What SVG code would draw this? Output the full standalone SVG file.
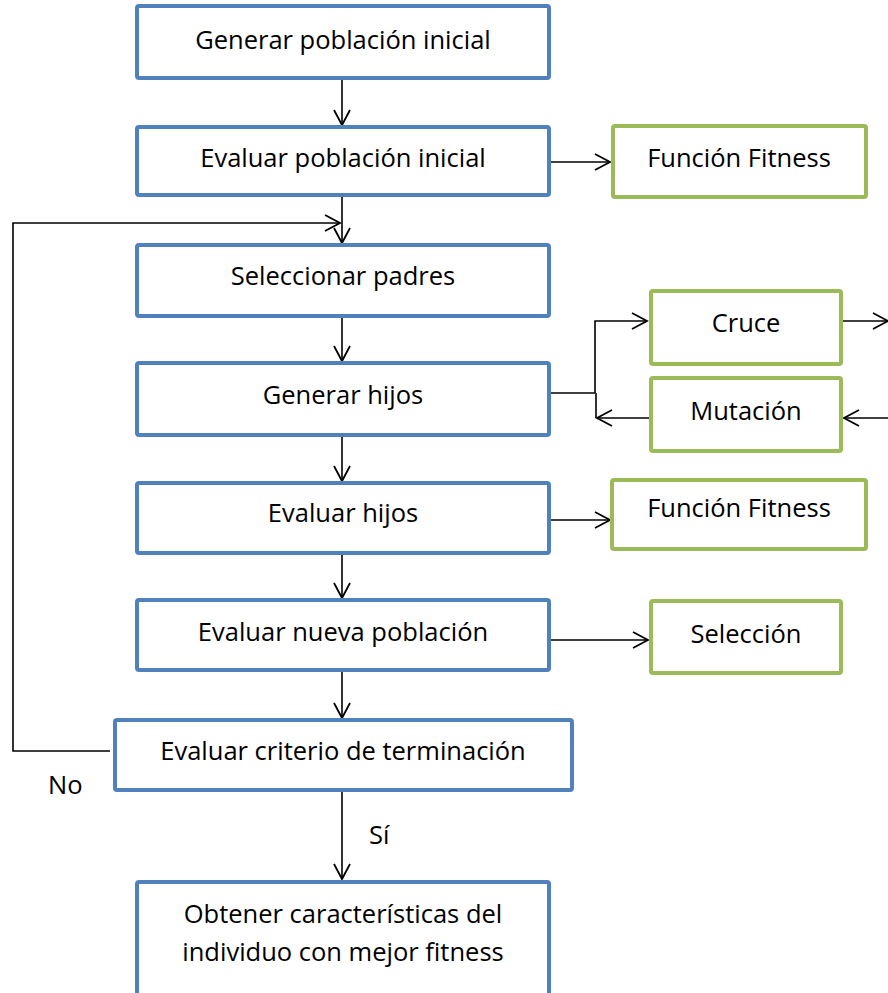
<svg xmlns="http://www.w3.org/2000/svg" width="888" height="993" viewBox="0 0 888 993">
  <defs>
    <marker id="arr" viewBox="0 0 20 20" refX="17" refY="10" markerWidth="20" markerHeight="20" markerUnits="userSpaceOnUse" orient="auto">
      <path d="M2,2 L17,10 L2,18" fill="none" stroke="#000" stroke-width="1.8"/>
    </marker>
  </defs>
  <style>
    .step { fill: #fff; stroke: #4F81BD; stroke-width: 4; }
    .op { fill: #fff; stroke: #9BBB59; stroke-width: 4; }
    .lbl { font-family: "Open Sans", "Liberation Sans", sans-serif; font-size: 25.5px; fill: #000; text-anchor: middle; }
    .free { font-family: "Open Sans", "Liberation Sans", sans-serif; font-size: 25.5px; fill: #000; }
    .ln { fill: none; stroke: #000; stroke-width: 1.6; }
  </style>
  <rect width="888" height="993" fill="#fff"/>

  <g id="connectors">
    <path class="ln" d="M342,78 V125" marker-end="url(#arr)"/>
    <path class="ln" d="M551,162 H610" marker-end="url(#arr)"/>
    <path class="ln" d="M342,195 V243" marker-end="url(#arr)"/>
    <path class="ln" d="M110,751 H13 V223 H340" marker-end="url(#arr)"/>
    <path class="ln" d="M342,316 V361" marker-end="url(#arr)"/>
    <path class="ln" d="M551,393 H595"/>
    <path class="ln" d="M595,393 V321 H647" marker-end="url(#arr)"/>
    <path class="ln" d="M596,393 V418"/>
    <path class="ln" d="M650,418 H597" marker-end="url(#arr)"/>
    <path class="ln" d="M843,321 H888" marker-end="url(#arr)"/>
    <path class="ln" d="M888,418 H844" marker-end="url(#arr)"/>
    <path class="ln" d="M342,435 V481" marker-end="url(#arr)"/>
    <path class="ln" d="M551,520 H610" marker-end="url(#arr)"/>
    <path class="ln" d="M342,553 V598" marker-end="url(#arr)"/>
    <path class="ln" d="M551,640 H648" marker-end="url(#arr)"/>
    <path class="ln" d="M342,670 V718" marker-end="url(#arr)"/>
    <path class="ln" d="M342,790 V879" marker-end="url(#arr)"/>
  </g>

  <g id="generar-poblacion">
    <rect class="step" x="137" y="6" width="412" height="72" rx="2"/>
    <text class="lbl" x="343" y="49">Generar población inicial</text>
  </g>
  <g id="evaluar-poblacion">
    <rect class="step" x="137" y="127" width="412" height="68" rx="2"/>
    <text class="lbl" x="343" y="167">Evaluar población inicial</text>
  </g>
  <g id="fitness-1">
    <rect class="op" x="613" y="126" width="253" height="71" rx="2"/>
    <text class="lbl" x="739" y="167">Función Fitness</text>
  </g>
  <g id="seleccionar-padres">
    <rect class="step" x="137" y="245" width="412" height="71" rx="2"/>
    <text class="lbl" x="343" y="285">Seleccionar padres</text>
  </g>
  <g id="generar-hijos">
    <rect class="step" x="137" y="363" width="412" height="72" rx="2"/>
    <text class="lbl" x="343" y="404">Generar hijos</text>
  </g>
  <g id="cruce">
    <rect class="op" x="651" y="291" width="190" height="73" rx="2"/>
    <text class="lbl" x="746" y="332">Cruce</text>
  </g>
  <g id="mutacion">
    <rect class="op" x="651" y="378" width="190" height="73" rx="2"/>
    <text class="lbl" x="746" y="420">Mutación</text>
  </g>
  <g id="evaluar-hijos">
    <rect class="step" x="137" y="483" width="412" height="70" rx="2"/>
    <text class="lbl" x="343" y="522">Evaluar hijos</text>
  </g>
  <g id="fitness-2">
    <rect class="op" x="612" y="480" width="254" height="69" rx="2"/>
    <text class="lbl" x="739" y="517">Función Fitness</text>
  </g>
  <g id="evaluar-nueva">
    <rect class="step" x="137" y="600" width="412" height="70" rx="2"/>
    <text class="lbl" x="343" y="641">Evaluar nueva población</text>
  </g>
  <g id="seleccion">
    <rect class="op" x="651" y="601" width="190" height="72" rx="2"/>
    <text class="lbl" x="746" y="643">Selección</text>
  </g>
  <g id="criterio">
    <rect class="step" x="115" y="720" width="457" height="70" rx="2"/>
    <text class="lbl" x="343" y="760">Evaluar criterio de terminación</text>
  </g>
  <g id="obtener">
    <rect class="step" x="137" y="882" width="412" height="113" rx="2"/>
    <text class="lbl" x="343" y="923">Obtener características del</text>
    <text class="lbl" x="343" y="961">individuo con mejor fitness</text>
  </g>

  <text class="free" x="48" y="794">No</text>
  <text class="free" x="369" y="844">Sí</text>
</svg>
